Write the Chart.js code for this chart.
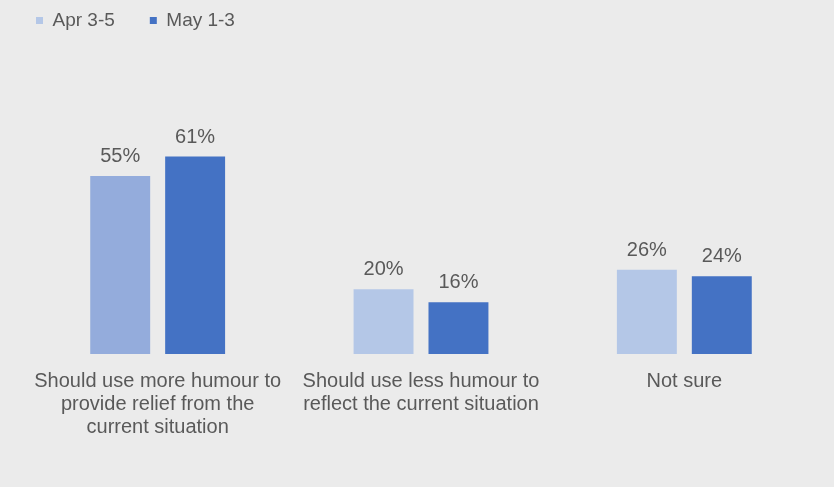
<!DOCTYPE html>
<html lang="en">
<head>
    <meta charset="UTF-8">
    <title>Humour in advertising</title>
    <script src="https://cdn.jsdelivr.net/npm/chart.js"></script>
    <style>
        body {
            margin: 0;
            padding: 0;
            background-color: #ffffff;
            overflow: hidden;
        }

        .chart-wrapper {
            width: 834px;
            height: 487px;
            background-color: #ebebeb;
        }
    </style>
</head>
<body>
    <div class="chart-wrapper">
        <canvas id="chart" width="834" height="487"></canvas>
    </div>
    <script>
        const categories = [
            ['Should use more humour to', 'provide relief from the', 'current situation'],
            ['Should use less humour to', 'reflect the current situation'],
            'Not sure'
        ];
        const seriesNames = ['Apr 3-5', 'May 1-3'];
        const aprValues = [55, 20, 26];
        const mayValues = [61, 16, 24];

        const textColor = '#595959';
        const fontFamily = "'Liberation Sans', Arial, sans-serif";

        // draws the "55%" style labels above each bar
        const valueLabels = {
            id: 'valueLabels',
            afterDatasetsDraw(chart) {
                const ctx = chart.ctx;
                ctx.save();
                ctx.font = '20px ' + fontFamily;
                ctx.fillStyle = textColor;
                ctx.textAlign = 'center';
                ctx.textBaseline = 'alphabetic';
                chart.data.datasets.forEach((ds, i) => {
                    chart.getDatasetMeta(i).data.forEach((bar, j) => {
                        ctx.fillText(ds.data[j] + '%', bar.x, bar.y - 14);
                    });
                });
                ctx.restore();
            }
        };

        new Chart(document.getElementById('chart'), {
            type: 'bar',
            data: {
                labels: categories,
                datasets: [
                    {
                        label: seriesNames[0],
                        data: aprValues,
                        backgroundColor: ['#94acdc', '#b4c7e7', '#b4c7e7'],
                        categoryPercentage: 0.569,
                        barPercentage: 0.8
                    },
                    {
                        label: seriesNames[1],
                        data: mayValues,
                        backgroundColor: '#4472c4',
                        categoryPercentage: 0.569,
                        barPercentage: 0.8
                    }
                ]
            },
            plugins: [valueLabels],
            options: {
                responsive: false,
                animation: false,
                layout: {
                    padding: { top: -24, left: 1, right: 18, bottom: 32 }
                },
                scales: {
                    x: {
                        grid: { display: false, drawTicks: false },
                        border: { display: false },
                        ticks: {
                            color: textColor,
                            padding: 16,
                            maxRotation: 0,
                            autoSkip: false,
                            font: { family: fontFamily, size: 20, lineHeight: 1.15 }
                        }
                    },
                    y: {
                        min: 0,
                        max: 97,
                        grid: { display: false, drawTicks: false },
                        border: { display: false },
                        ticks: { display: false },
                        afterFit(scale) {
                            scale.width = 25;
                        }
                    }
                },
                plugins: {
                    legend: {
                        position: 'top',
                        align: 'start',
                        labels: {
                            color: textColor,
                            boxWidth: 7,
                            boxHeight: 7,
                            padding: 35,
                            font: { family: fontFamily, size: 19 },
                            generateLabels(chart) {
                                return chart.data.datasets.map((ds, i) => ({
                                    text: ds.label,
                                    fillStyle: i === 0 ? '#b4c7e7' : '#4472c4',
                                    strokeStyle: 'rgba(0,0,0,0)',
                                    lineWidth: 0,
                                    fontColor: textColor,
                                    datasetIndex: i
                                }));
                            }
                        }
                    },
                    tooltip: { enabled: false }
                }
            }
        });
    </script>
</body>
</html>
